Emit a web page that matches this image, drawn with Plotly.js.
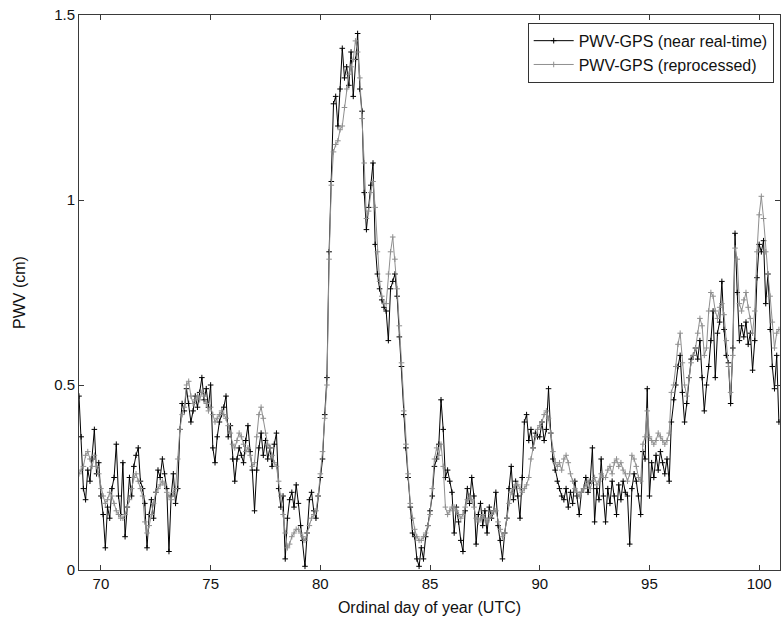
<!DOCTYPE html>
<html>
<head>
<meta charset="utf-8">
<script src="https://cdn.plot.ly/plotly-3.0.1.min.js"></script>
<style>html,body{margin:0;padding:0;background:#fff;}#chart{width:783px;height:628px;}</style>
</head>
<body>
<div id="chart"></div>
<script>
// Sampling: first day and step (days) of both series
const startDay = 69.0;
const stepDay = 0.1;

// PWV-GPS (near real-time), cm, day 69.0 .. 100.9
const pwvNearRealTime = [
  0.47,0.36,0.22,0.19,0.27,0.24,0.30,0.38,0.26,0.29,
  0.20,0.15,0.06,0.17,0.14,0.22,0.25,0.34,0.20,0.15,
  0.29,0.09,0.17,0.25,0.20,0.28,0.31,0.33,0.24,0.22,
  0.18,0.06,0.15,0.19,0.14,0.21,0.27,0.25,0.30,0.26,
  0.22,0.05,0.20,0.26,0.18,0.22,0.38,0.45,0.43,0.49,
  0.45,0.40,0.43,0.47,0.44,0.48,0.52,0.46,0.49,0.44,
  0.50,0.33,0.29,0.36,0.40,0.42,0.44,0.47,0.36,0.39,
  0.30,0.24,0.30,0.33,0.31,0.29,0.35,0.39,0.32,0.27,
  0.16,0.27,0.33,0.37,0.31,0.35,0.30,0.33,0.28,0.34,
  0.37,0.22,0.17,0.20,0.03,0.14,0.19,0.21,0.17,0.23,
  0.18,0.12,0.08,0.01,0.10,0.19,0.21,0.16,0.14,0.20,
  0.25,0.30,0.42,0.52,0.86,1.05,1.26,1.28,1.20,1.30,
  1.41,1.33,1.36,1.31,1.40,1.28,1.38,1.45,1.30,1.24,
  1.02,0.92,0.98,1.04,1.10,0.88,0.80,0.76,0.73,0.71,
  0.70,0.62,0.76,0.78,0.80,0.74,0.63,0.55,0.42,0.33,
  0.25,0.17,0.10,0.09,0.03,0.01,0.06,0.03,0.09,0.12,
  0.16,0.20,0.28,0.30,0.34,0.46,0.38,0.25,0.27,0.24,
  0.21,0.10,0.17,0.13,0.08,0.05,0.16,0.22,0.18,0.25,
  0.20,0.07,0.15,0.18,0.12,0.16,0.10,0.17,0.14,0.16,
  0.21,0.12,0.08,0.03,0.10,0.14,0.22,0.28,0.19,0.24,
  0.20,0.14,0.25,0.40,0.42,0.35,0.38,0.33,0.37,0.36,
  0.36,0.40,0.35,0.38,0.49,0.37,0.30,0.27,0.24,0.22,
  0.20,0.19,0.22,0.17,0.21,0.18,0.24,0.20,0.15,0.21,
  0.22,0.25,0.21,0.24,0.33,0.13,0.22,0.19,0.30,0.20,
  0.13,0.22,0.18,0.24,0.20,0.15,0.23,0.19,0.24,0.21,
  0.20,0.07,0.22,0.26,0.24,0.20,0.15,0.32,0.30,0.49,
  0.20,0.29,0.25,0.31,0.27,0.32,0.29,0.26,0.30,0.24,
  0.40,0.46,0.50,0.55,0.58,0.48,0.40,0.45,0.52,0.57,
  0.58,0.60,0.57,0.62,0.52,0.43,0.50,0.55,0.62,0.70,
  0.52,0.64,0.67,0.78,0.65,0.58,0.56,0.45,0.60,0.91,
  0.75,0.62,0.66,0.63,0.67,0.61,0.64,0.54,0.62,0.79,
  0.88,0.86,0.89,0.72,0.80,0.65,0.55,0.49,0.58,0.40
];

// PWV-GPS (reprocessed), cm, day 69.0 .. 100.9
const pwvReprocessed = [
  0.26,0.27,0.28,0.31,0.32,0.30,0.28,0.31,0.28,0.26,
  0.22,0.20,0.18,0.19,0.21,0.20,0.18,0.16,0.15,0.14,
  0.14,0.15,0.17,0.19,0.22,0.25,0.26,0.24,0.22,0.20,
  0.13,0.10,0.12,0.15,0.18,0.21,0.22,0.23,0.24,0.23,
  0.21,0.20,0.19,0.21,0.22,0.30,0.38,0.42,0.44,0.50,
  0.51,0.47,0.45,0.46,0.47,0.46,0.48,0.47,0.45,0.43,
  0.44,0.42,0.40,0.41,0.42,0.43,0.42,0.41,0.39,0.37,
  0.34,0.33,0.35,0.37,0.36,0.34,0.32,0.33,0.31,0.28,
  0.29,0.36,0.42,0.44,0.41,0.37,0.34,0.33,0.31,0.29,
  0.28,0.24,0.20,0.15,0.10,0.06,0.07,0.09,0.10,0.11,
  0.11,0.10,0.09,0.08,0.10,0.12,0.14,0.15,0.16,0.20,
  0.26,0.32,0.41,0.50,0.84,1.04,1.13,1.15,1.16,1.19,
  1.20,1.25,1.30,1.34,1.36,1.38,1.43,1.40,1.33,1.22,
  1.10,0.95,0.97,1.02,1.05,0.98,0.86,0.78,0.74,0.72,
  0.72,0.80,0.86,0.90,0.84,0.76,0.66,0.56,0.43,0.34,
  0.26,0.18,0.14,0.11,0.09,0.08,0.08,0.09,0.10,0.12,
  0.15,0.22,0.30,0.33,0.31,0.34,0.28,0.17,0.15,0.16,
  0.17,0.17,0.16,0.15,0.14,0.15,0.17,0.19,0.20,0.19,
  0.17,0.14,0.13,0.14,0.15,0.14,0.13,0.14,0.15,0.16,
  0.16,0.13,0.11,0.09,0.10,0.14,0.18,0.21,0.22,0.23,
  0.23,0.22,0.21,0.22,0.23,0.25,0.30,0.33,0.36,0.38,
  0.39,0.40,0.42,0.43,0.41,0.37,0.32,0.29,0.28,0.29,
  0.27,0.30,0.31,0.29,0.26,0.24,0.22,0.21,0.20,0.21,
  0.22,0.23,0.24,0.22,0.24,0.25,0.23,0.24,0.26,0.25,
  0.25,0.27,0.28,0.26,0.29,0.30,0.28,0.29,0.27,0.26,
  0.24,0.26,0.31,0.30,0.28,0.25,0.24,0.34,0.36,0.43,
  0.36,0.35,0.34,0.35,0.37,0.36,0.35,0.34,0.35,0.37,
  0.48,0.50,0.55,0.61,0.64,0.56,0.50,0.47,0.52,0.56,
  0.58,0.60,0.64,0.68,0.66,0.58,0.60,0.70,0.75,0.74,
  0.70,0.68,0.71,0.72,0.69,0.62,0.55,0.48,0.58,0.87,
  0.84,0.72,0.70,0.73,0.75,0.71,0.68,0.64,0.70,0.86,
  0.96,1.01,0.95,0.86,0.80,0.74,0.67,0.60,0.64,0.65
];

const seriesNames = ['PWV-GPS (near real-time)', 'PWV-GPS (reprocessed)'];
const xTickVals = [70, 75, 80, 85, 90, 95, 100];
const yTickVals = [0, 0.5, 1, 1.5];
const yTickText = ['0', '0.5', '1', '1.5'];

const FONT = 'Arial, "Liberation Sans", Helvetica, sans-serif';

const traces = [
  {
    type: 'scatter', mode: 'lines+markers', name: seriesNames[0],
    y: pwvNearRealTime, x0: startDay, dx: stepDay,
    line: {color: '#000000', width: 1},
    marker: {symbol: 'cross-thin', size: 4, color: '#000000', line: {color: '#000000', width: 1}}
  },
  {
    type: 'scatter', mode: 'lines+markers', name: seriesNames[1],
    y: pwvReprocessed, x0: startDay, dx: stepDay,
    line: {color: '#8f8f8f', width: 1},
    marker: {symbol: 'cross-thin', size: 4, color: '#8f8f8f', line: {color: '#8f8f8f', width: 1}}
  }
];

const axisCommon = {
  showline: true, linecolor: '#3a3a3a', linewidth: 1, mirror: 'ticks',
  ticks: 'inside', ticklen: 5, tickcolor: '#3a3a3a', tickwidth: 1,
  showgrid: false, zeroline: false,
  tickfont: {family: FONT, size: 15, color: '#111'}
};

const layout = {
  width: 783, height: 628,
  margin: {l: 79, r: 3, t: 15, b: 58},
  paper_bgcolor: '#ffffff', plot_bgcolor: '#ffffff',
  showlegend: true,
  legend: {
    x: 0.991, y: 0.986, xanchor: 'right', yanchor: 'top',
    bgcolor: '#ffffff', bordercolor: '#333', borderwidth: 1,
    font: {family: FONT, size: 16, color: '#111'},
    tracegroupgap: 0, itemwidth: 40
  },
  xaxis: Object.assign({}, axisCommon, {
    range: [69, 100.95], tickvals: xTickVals,
    title: {text: 'Ordinal day of year (UTC)', font: {family: FONT, size: 16, color: '#111'}, standoff: 10}
  }),
  yaxis: Object.assign({}, axisCommon, {
    range: [0, 1.5], tickvals: yTickVals, ticktext: yTickText,
    title: {text: 'PWV (cm)', font: {family: FONT, size: 16, color: '#111'}, standoff: 24}
  })
};

Plotly.newPlot('chart', traces, layout, {displayModeBar: false, staticPlot: true});
</script>
</body>
</html>
